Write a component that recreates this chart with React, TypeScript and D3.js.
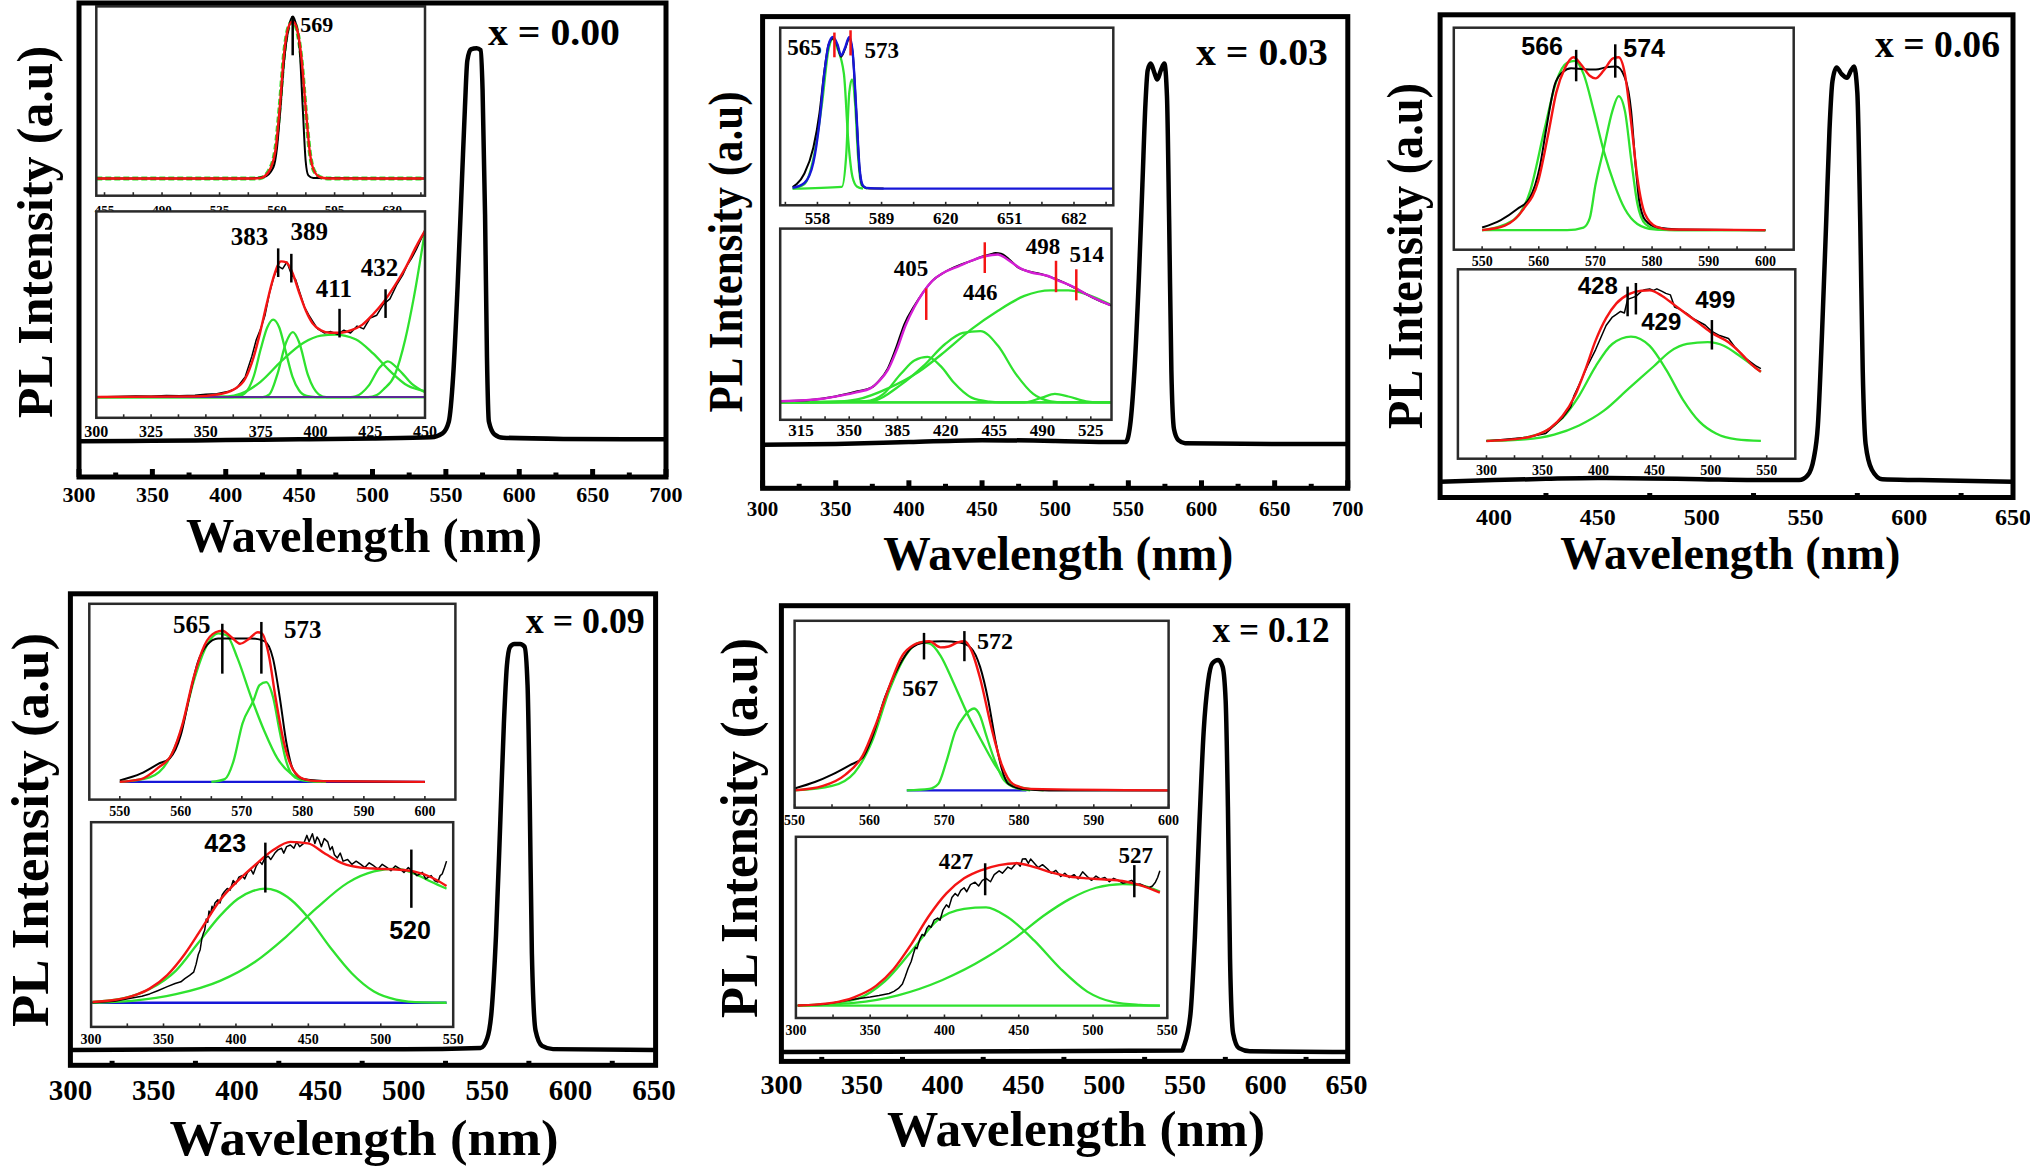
import React from "react";
import * as d3 from "d3";

type Pt = [number, number];

// ---------- x = 0.00 ----------
const p1Ticks = [300, 350, 400, 450, 500, 550, 600, 650, 700];
const p1Main: Pt[] = [[300,0],[350,0.001],[400,0.003],[450,0.005],[500,0.007],[540,0.01],[547.7,0.02],[552,0.05],[555,0.168],[558,0.395],[561,0.668],[563,0.85],[564.6,0.968],[567,0.997],[571,1.0],[573.7,0.995],[575,0.895],[576.7,0.577],[578,0.214],[579.3,0.05],[583,0.018],[589,0.009],[630,0.006],[700,0.005]];
const p1UpTicks = [455, 490, 525, 560, 595, 630];
const p1UpData: Pt[] = [[450,0],[540,0],[552,0.01],[557.7,0.07],[560,0.2],[561.6,0.39],[564.3,0.75],[567,0.955],[569.5,1.03],[571,1.0],[573.5,0.86],[575.6,0.45],[577.4,0.11],[579,0.02],[582,0.003],[650,0]];
const p1UpFit: Pt[] = [[450,0],[545,0],[549.7,0.003],[555,0.045],[559,0.18],[561.6,0.45],[564.3,0.8],[567,0.966],[569.5,1.0],[572,0.955],[574.8,0.77],[577.4,0.45],[580,0.16],[582.7,0.045],[586.7,0.007],[592,0],[650,0]];
const p1UpComp: Pt[] = [[450,0],[545,0],[550,0.004],[555,0.05],[559,0.19],[561.6,0.46],[564.3,0.8],[567,0.965],[569.5,1.0],[572,0.95],[574.8,0.76],[577.4,0.44],[580,0.16],[582.7,0.045],[587,0.006],[592,0],[650,0]];
const p1UpPeaks = [{ nm: 569.5, top: 1.034, bot: 0.784 }];
const p1LoTicks = [300, 325, 350, 375, 400, 425, 450];
const p1LoData: Pt[] = [[300,0],[310,0.004],[318,0.008],[325,0.006],[332,0.012],[338,0.01],[345,0.014],[350,0.02],[355,0.025],[360,0.04],[364,0.065],[368,0.15],[371,0.3],[373,0.42],[375,0.5],[377,0.6],[379,0.76],[381,0.88],[383,0.96],[385,0.94],[387,0.99],[389,0.9],[391,0.86],[393,0.76],[395,0.66],[397,0.6],[399,0.55],[401,0.5],[404,0.47],[407,0.48],[410,0.46],[413,0.49],[416,0.47],[419,0.52],[422,0.5],[425,0.58],[428,0.6],[431,0.68],[434,0.72],[437,0.82],[440,0.9],[442,0.97],[444,1.02],[446,1.08],[448,1.15],[450,1.22]];
const p1LoFit: Pt[] = [[300,0],[345,0.005],[355,0.018],[363,0.058],[368,0.136],[371.8,0.293],[374.8,0.476],[377.8,0.686],[380.7,0.869],[384.3,0.995],[386.7,0.987],[389.6,0.908],[392.6,0.764],[395.6,0.634],[398.6,0.542],[402.5,0.49],[406.5,0.471],[411.4,0.471],[416.4,0.49],[421.3,0.529],[426.3,0.607],[431.2,0.699],[436.2,0.817],[441.1,0.948],[446,1.105],[450,1.22]];
const p1LoG1: Pt[] = [[300,0],[362,0],[366,0.01],[369,0.05],[372,0.16],[375,0.35],[378,0.51],[380.7,0.568],[383.5,0.51],[386.5,0.33],[389.5,0.15],[392.5,0.05],[396,0.008],[400,0],[450,0]];
const p1LoG2: Pt[] = [[300,0],[376,0],[379,0.02],[382.7,0.17],[386.6,0.4],[389.7,0.476],[392.6,0.4],[396.6,0.16],[401.5,0.02],[405,0],[450,0]];
const p1LoG3: Pt[] = [[300,0],[360,0.005],[366,0.025],[374.8,0.11],[384.7,0.267],[394.6,0.398],[402.5,0.45],[409,0.458],[418.3,0.424],[426.3,0.32],[434.2,0.188],[442,0.084],[450,0.044]];
const p1LoG4: Pt[] = [[300,0],[416,0],[418.3,0.005],[424.3,0.084],[429.2,0.215],[433,0.262],[438.1,0.2],[444,0.097],[450,0.035]];
const p1LoG5: Pt[] = [[300,0],[424,0],[428,0.015],[431.2,0.058],[436.2,0.162],[441,0.424],[445,0.738],[450,1.22]];
const p1LoBase: Pt[] = [[300,0],[450,0]];
const p1LoPeaks = [
  { nm: 383, top: 1.09, bot: 0.88 },
  { nm: 389, top: 1.05, bot: 0.84 },
  { nm: 411, top: 0.647, bot: 0.437 },
  { nm: 432, top: 0.79, bot: 0.58 },
];

// ---------- x = 0.03 ----------
const p2Main: Pt[] = [[300,-0.002],[350,0],[400,0.005],[450,0.01],[500,0.008],[540,0.005],[548.2,0.005],[551.2,0.049],[554.2,0.195],[557.2,0.439],[559.6,0.683],[561.7,0.898],[563.2,0.985],[565.3,1.003],[567.7,0.98],[569.8,0.961],[572.2,0.985],[574.6,1.003],[576.4,0.917],[577.9,0.585],[579.4,0.195],[581.2,0.039],[584.2,0.01],[588.8,0.002],[650,0],[700,0]];
const p2UpTicks = [558, 589, 620, 651, 682];
const p2UpData: Pt[] = [[546,0.01],[548,0.03],[551.7,0.1],[556,0.27],[559,0.5],[561.3,0.77],[563.4,0.95],[565.5,0.99],[567.7,0.94],[569.4,0.87],[571.3,0.92],[573.4,0.99],[575,0.9],[576.8,0.5],[578.3,0.14],[579.8,0.02],[582,0.003],[590,0]];
const p2UpFit: Pt[] = [[546,0.005],[551.7,0.037],[556,0.17],[559,0.44],[561.3,0.756],[563.4,0.95],[565.5,1.0],[567.7,0.95],[569.4,0.878],[571.3,0.927],[573.4,1.0],[575,0.902],[576.8,0.512],[578.3,0.146],[579.8,0.024],[581.5,0.005],[590,0],[701,0]];
const p2UpG1: Pt[] = [[546,0],[551.7,0.03],[556,0.195],[560.2,0.56],[563.4,0.92],[565.5,0.988],[567.5,0.93],[570.8,0.756],[572.9,0.317],[575,0.073],[577.2,0.012],[580,0]];
const p2UpG2: Pt[] = [[546,0],[569.8,0.012],[571.9,0.22],[573.4,0.634],[574.7,0.72],[576.2,0.561],[577.6,0.22],[579.3,0.024],[582,0]];
const p2UpPeaks = [
  { nm: 566.2, top: 1.029, bot: 0.866 },
  { nm: 574, top: 1.044, bot: 0.878 },
];
const p2LoTicks = [315, 350, 385, 420, 455, 490, 525];
const p2LoData: Pt[] = [[300,0.008],[320,0.015],[340,0.04],[356,0.075],[366,0.1],[372,0.15],[378,0.23],[384,0.37],[390,0.53],[397,0.65],[404,0.75],[410,0.82],[419,0.88],[429,0.925],[438,0.955],[446,0.985],[452,1.0],[456,1.01],[460,1.005],[465,0.975],[472,0.915],[480,0.885],[488,0.87],[495,0.85],[502,0.825],[510,0.79],[518,0.75],[526,0.71],[533,0.68],[540,0.655]];
const p2LoFit: Pt[] = [[300,0.008],[317.5,0.015],[330.3,0.025],[343,0.045],[355.8,0.07],[365.3,0.095],[371.7,0.145],[378,0.22],[384.5,0.357],[390.8,0.52],[397.2,0.645],[403.6,0.745],[410,0.82],[419.5,0.883],[429.1,0.92],[438.6,0.958],[448.2,0.988],[457.8,1.0],[464.1,0.97],[473.7,0.908],[483.3,0.875],[492.8,0.858],[502.4,0.82],[511.9,0.783],[521.5,0.733],[531.1,0.69],[539,0.658]];
const p2LoG1: Pt[] = [[300,0],[362,0.008],[374.9,0.058],[387.6,0.195],[397.2,0.283],[406.8,0.3075],[416.3,0.245],[425.9,0.1325],[438.6,0.0325],[451.4,0.005],[460,0],[540,0]];
const p2LoG2: Pt[] = [[300,0],[365.3,0.008],[387.6,0.12],[403.6,0.245],[419.5,0.395],[432.3,0.47],[445,0.4825],[457.8,0.3825],[470.5,0.195],[483.3,0.0575],[496,0.0075],[505,0],[540,0]];
const p2LoG3: Pt[] = [[300,0],[340,0.005],[355.8,0.02],[378.1,0.095],[400.4,0.2075],[419.5,0.345],[438.6,0.495],[457.8,0.62],[476.9,0.72],[496,0.7575],[508.7,0.7575],[521.5,0.7325],[540,0.6575]];
const p2LoG4: Pt[] = [[300,0],[476.9,0],[489.6,0.0325],[499,0.0575],[508.7,0.04],[521.5,0.0075],[530,0],[540,0]];
const p2LoBase: Pt[] = [[300,0],[540,0]];
const p2LoPeaks = [
  { nm: 405.8, top: 0.77, bot: 0.5575 },
  { nm: 448.2, top: 1.0825, bot: 0.875 },
  { nm: 499.8, top: 0.9575, bot: 0.745 },
  { nm: 514.5, top: 0.9, bot: 0.69 },
];

// ---------- x = 0.06 ----------
const p3Ticks = [400, 450, 500, 550, 600, 650];
const p3Main: Pt[] = [[374,-0.002],[400,0.002],[425,0.005],[450,0.007],[475,0.006],[500,0.004],[525,0.002],[547,0.002],[551,0.013],[554,0.054],[556,0.134],[558,0.357],[560,0.625],[561.6,0.848],[563,0.964],[565,0.998],[567.4,0.982],[570,0.973],[572,0.991],[573.4,1.0],[575,0.9375],[576.4,0.625],[577.6,0.268],[579,0.089],[582,0.027],[587,0.004],[605,0.002],[650,-0.002]];
const p3UpTicks = [550, 560, 570, 580, 590, 600];
const p3UpData: Pt[] = [[550,0.015],[553.3,0.058],[556.2,0.122],[558.4,0.186],[560.2,0.368],[561.3,0.582],[562.8,0.839],[564.2,0.914],[565.7,0.936],[567.9,0.931],[570.1,0.929],[571.9,0.942],[573.7,0.946],[575.2,0.882],[576.3,0.69],[577,0.411],[577.7,0.176],[578.8,0.058],[581,0.015],[584.7,0.004],[600,0]];
const p3UpFit: Pt[] = [[550,0],[554,0.026],[557.3,0.122],[559.9,0.283],[561.7,0.561],[563.1,0.797],[564.6,0.936],[566.1,1.0],[567.5,0.957],[569,0.893],[570,0.878],[571.5,0.925],[573.1,0.994],[574.1,1.0],[575.2,0.904],[576.3,0.625],[577.4,0.304],[578.8,0.09],[580.7,0.021],[583.2,0.004],[600,0]];
const p3UpG1: Pt[] = [[550,0],[555.5,0.058],[558.4,0.218],[561,0.582],[563.1,0.861],[565,0.968],[566.4,0.979],[567.9,0.904],[569.7,0.69],[571.5,0.454],[573.4,0.261],[575.2,0.122],[577.4,0.036],[580.3,0.004],[583,0],[600,0]];
const p3UpG2: Pt[] = [[550,0],[565,0],[567.9,0.015],[569,0.069],[570,0.261],[571.5,0.475],[573,0.69],[574.1,0.775],[575.2,0.69],[576.3,0.411],[577.4,0.154],[578.8,0.036],[581,0.004],[584,0],[600,0]];
const p3UpPeaks = [
  { nm: 566.6, top: 1.043, bot: 0.861 },
  { nm: 573.5, top: 1.075, bot: 0.882 },
];
const p3LoTicks = [300, 350, 400, 450, 500, 550];
const p3LoData: Pt[] = [[300,0],[334.4,0.022],[352.9,0.05],[367.8,0.152],[375.2,0.226],[378,0.3],[382.6,0.373],[390,0.496],[397.4,0.607],[406.7,0.767],[412,0.82],[415.9,0.84],[419.6,0.86],[423,0.85],[425.9,0.94],[429.6,0.95],[433.3,0.96],[438.1,0.993],[441,1.005],[445.6,1.01],[449,1.0],[452,1.01],[456.7,0.993],[460,0.98],[464.1,0.97],[467.8,0.89],[471,0.88],[478.9,0.845],[485,0.81],[490,0.79],[495,0.77],[501.1,0.727],[508,0.7],[515.9,0.68],[522,0.62],[527,0.58],[531,0.55],[536.3,0.52],[540,0.5],[544.8,0.48]];
const p3LoFit: Pt[] = [[300,0],[323.3,0.01],[341.9,0.034],[356.7,0.084],[367.8,0.165],[378.9,0.3],[388.1,0.472],[397.4,0.668],[406.7,0.816],[415.9,0.914],[427,0.975],[438.1,0.998],[445.6,1.0],[456.7,0.963],[467.8,0.902],[478.9,0.84],[490,0.779],[501.1,0.717],[515.9,0.656],[527,0.582],[536.3,0.509],[544.8,0.459]];
const p3LoG1: Pt[] = [[300,0],[315.9,0.005],[334.4,0.022],[353,0.066],[367.8,0.152],[382.6,0.3],[397.4,0.496],[412.2,0.644],[428.9,0.693],[445.6,0.631],[460.4,0.472],[475.2,0.275],[490,0.128],[504.8,0.049],[523.3,0.01],[544.8,0]];
const p3LoG2: Pt[] = [[300,0],[334.4,0.01],[360.4,0.042],[382.6,0.103],[404.8,0.201],[427,0.349],[449.3,0.496],[464.1,0.595],[478.9,0.644],[497.4,0.656],[512.2,0.631],[527,0.558],[544.8,0.459]];
const p3LoPeaks = [
  { nm: 425.9, top: 1.025, bot: 0.828 },
  { nm: 433.3, top: 1.049, bot: 0.84 },
  { nm: 501.1, top: 0.803, bot: 0.607 },
];

// ---------- x = 0.09 ----------
const p4Ticks = [300, 350, 400, 450, 500, 550, 600, 650];
const p4Main: Pt[] = [[300,-0.002],[400,0],[500,0],[546,0.003],[550,0.027],[552.6,0.093],[555.3,0.283],[557.9,0.568],[560,0.805],[561.8,0.948],[563.7,0.995],[566.3,1.002],[569.7,1.002],[572.4,0.995],[574.2,0.9],[575.5,0.615],[576.8,0.236],[579,0.046],[582.9,0.008],[589.5,0],[650,-0.002]];
const p4UpTicks = [550, 560, 570, 580, 590, 600];
const p4UpData: Pt[] = [[550,0.01],[553.5,0.056],[556.3,0.119],[558.2,0.157],[560,0.31],[561.4,0.563],[562.8,0.792],[564.3,0.906],[566.1,0.949],[568.6,0.949],[571.5,0.949],[573.7,0.931],[575.1,0.817],[576.2,0.563],[577.3,0.259],[578.4,0.081],[580.2,0.018],[584.5,0.005],[600,0]];
const p4UpFit: Pt[] = [[550,0],[553.5,0.018],[556.3,0.094],[558.5,0.183],[560.3,0.386],[562.1,0.69],[563.9,0.906],[565.7,0.99],[566.8,1.0],[568.3,0.957],[569.7,0.914],[571.1,0.944],[572.6,0.99],[573.3,0.982],[574.4,0.843],[575.5,0.563],[576.9,0.259],[578.4,0.081],[580.2,0.018],[582.3,0.005],[600,0]];
const p4UpG1: Pt[] = [[550,0],[554.9,0.03],[557.8,0.132],[560,0.335],[562.1,0.665],[564.3,0.906],[566.1,0.982],[567.5,0.97],[569.3,0.817],[571.5,0.563],[573.7,0.335],[575.8,0.157],[578,0.056],[580.9,0.01],[583.8,0]];
const p4UpG2: Pt[] = [[565,0],[567.2,0.018],[568.6,0.132],[570.1,0.386],[571.9,0.538],[572.9,0.64],[574,0.66],[575.1,0.563],[576.2,0.335],[577.3,0.132],[578.7,0.03],[580.9,0.005],[583,0]];
const p4UpBase: Pt[] = [[550,0],[600,0]];
const p4UpPeaks = [
  { nm: 566.8, top: 1.046, bot: 0.716 },
  { nm: 573.2, top: 1.058, bot: 0.716 },
];
const p4LoTicks = [300, 350, 400, 450, 500, 550];
const p4LoData: Pt[] = [[300.9,0],[316,0.01],[328.2,0.03],[335,0.04],[340.4,0.055],[346,0.075],[352.6,0.1],[358,0.12],[362,0.13],[364.7,0.15],[368,0.17],[370.8,0.19],[372.5,0.24],[374,0.3],[375.3,0.33],[376.5,0.4],[377.5,0.43],[378.4,0.45],[379.5,0.52],[380.5,0.5],[381.4,0.57],[382.5,0.55],[383.5,0.6],[384.4,0.58],[385.5,0.62],[387.5,0.64],[389,0.62],[390.5,0.67],[392,0.69],[394,0.71],[396,0.7],[398.1,0.76],[400,0.74],[402,0.78],[404.2,0.79],[406,0.77],[408,0.81],[410.2,0.83],[412,0.8],[414,0.85],[416.3,0.88],[418,0.86],[420,0.9],[422.4,0.91],[424,0.89],[426.9,0.93],[429,0.95],[431.5,0.96],[433,0.93],[435,0.97],[437.6,0.98],[440,0.96],[442,1.0],[444,0.97],[446.8,0.99],[449,1.04],[450.5,1.0],[452.8,1.05],[454.5,0.99],[456,1.03],[457.4,1.01],[459,0.97],[461,1.02],[463.4,1.0],[465,0.95],[466.5,0.97],[468,0.92],[470,0.9],[472,0.93],[474,0.88],[477.1,0.89],[480,0.86],[483,0.88],[486.2,0.86],[489,0.84],[492,0.87],[495.3,0.85],[498,0.83],[501,0.86],[504.4,0.84],[507,0.82],[510,0.85],[513.5,0.83],[516,0.81],[519,0.84],[522.7,0.81],[525,0.79],[528.7,0.81],[531,0.77],[534.8,0.79],[537,0.76],[539.4,0.75],[541,0.79],[542.4,0.8],[544,0.84],[545.4,0.88]];
const p4LoFit: Pt[] = [[300.9,0.005],[316,0.017],[328.2,0.041],[340.4,0.088],[352.6,0.172],[364.7,0.303],[376.9,0.47],[389,0.637],[401.2,0.757],[413.3,0.857],[425.5,0.947],[437.6,1.0],[449.8,0.99],[461.9,0.924],[474.1,0.864],[486.2,0.84],[498.4,0.833],[510.5,0.828],[522.7,0.816],[534.8,0.78],[545.4,0.726]];
const p4LoG1: Pt[] = [[300.9,0.005],[322.2,0.027],[340.4,0.085],[358.6,0.2],[373.8,0.37],[389,0.54],[401.2,0.645],[411.8,0.695],[420,0.709],[428,0.695],[438,0.64],[449.8,0.53],[465,0.345],[480.1,0.182],[495.3,0.07],[510.5,0.02],[528.7,0.002],[545.4,0]];
const p4LoG2: Pt[] = [[300.9,0],[328.2,0.012],[358.6,0.053],[389,0.136],[413.3,0.255],[434.6,0.41],[455.8,0.589],[477.1,0.745],[495.3,0.816],[510.5,0.833],[522.7,0.804],[534.8,0.752],[545.4,0.709]];
const p4LoBase: Pt[] = [[300.9,0],[545.4,0]];
const p4LoPeaks = [
  { nm: 420.3, top: 0.995, bot: 0.685 },
  { nm: 521.1, top: 0.952, bot: 0.59 },
];

// ---------- x = 0.12 ----------
const p5Main: Pt[] = [[300,-0.002],[450,0],[548.2,0.002],[549.3,0.013],[553.4,0.095],[556.1,0.288],[558.9,0.577],[561.6,0.819],[564.3,0.944],[567,0.992],[570.6,1.0],[573.3,0.983],[575.2,0.896],[576.6,0.625],[577.9,0.239],[579.8,0.046],[583.4,0.008],[590.2,0],[650,-0.002]];
const p5UpData: Pt[] = [[550,0.013],[552.7,0.056],[555,0.106],[557.4,0.17],[559.1,0.22],[560.3,0.347],[562.1,0.625],[563.9,0.828],[565.6,0.954],[567.4,0.992],[569.8,1.0],[572.1,0.992],[573.6,0.954],[574.8,0.828],[575.9,0.6],[576.8,0.347],[577.7,0.144],[578.6,0.043],[580.4,0.01],[584,0],[600,0]];
const p5UpFit: Pt[] = [[550,0],[553.8,0.03],[556.8,0.106],[559.1,0.233],[560.9,0.448],[562.7,0.701],[564.4,0.904],[565.9,0.975],[566.8,0.992],[568,1.0],[569.5,0.959],[570.6,0.965],[571.8,0.992],[572.7,1.0],[573.6,0.942],[574.8,0.752],[576.3,0.423],[577.7,0.17],[579.2,0.043],[581.5,0.01],[600,0]];
const p5UpG1: Pt[] = [[550,0],[555,0.03],[558,0.119],[560.3,0.322],[562.7,0.676],[565,0.916],[566.8,0.992],[568,0.985],[569.5,0.904],[571.2,0.727],[573,0.524],[575.1,0.322],[576.8,0.17],[578.6,0.056],[580.4,0.018],[583.3,0]];
const p5UpG2: Pt[] = [[565,0],[568,0.01],[569.2,0.043],[570.3,0.195],[571.5,0.397],[572.7,0.499],[574,0.549],[574.8,0.499],[575.6,0.372],[576.8,0.195],[578,0.068],[579.8,0.013],[581.5,0]];
const p5UpBase: Pt[] = [[565,0],[581,0]];
const p5UpPeaks = [
  { nm: 567.3, top: 1.056, bot: 0.878 },
  { nm: 572.7, top: 1.068, bot: 0.866 },
];
const p5LoData: Pt[] = [[301.2,0],[320,0.01],[339.1,0.045],[350,0.06],[356,0.07],[362.8,0.085],[366,0.1],[369,0.12],[371.7,0.151],[373.5,0.2],[375.5,0.26],[377.6,0.31],[379,0.36],[380.5,0.41],[381.5,0.4],[383.5,0.469],[385,0.5],[386.5,0.49],[388,0.54],[389.5,0.562],[391,0.55],[393,0.6],[395.4,0.615],[397,0.6],[399,0.67],[401.3,0.708],[403,0.69],[405,0.76],[407.2,0.788],[409,0.77],[411,0.81],[413.2,0.828],[415,0.8],[417.5,0.85],[420.6,0.867],[423,0.84],[425.5,0.88],[428,0.894],[431,0.87],[433.5,0.92],[436.8,0.947],[439,0.93],[442.7,0.973],[445,0.96],[448.7,1.005],[451,0.98],[452.5,1.03],[454.6,1.032],[456.5,1.0],[458,1.03],[460.5,1.0],[463,0.97],[466,0.99],[469.4,0.96],[472,0.93],[475,0.95],[478.3,0.907],[481,0.93],[484,0.9],[487.2,0.92],[490,0.89],[493,0.94],[496.1,0.907],[499,0.88],[502,0.91],[505,0.889],[508,0.9],[511,0.87],[513.9,0.894],[517,0.88],[520,0.86],[522.7,0.867],[526,0.88],[529,0.85],[531.6,0.854],[534.5,0.84],[537.6,0.828],[540,0.84],[542,0.867],[543.5,0.9],[545,0.947]];
const p5LoFit: Pt[] = [[301.2,0],[324.3,0.019],[339.1,0.058],[353.9,0.138],[365.8,0.257],[377.6,0.43],[389.5,0.629],[401.3,0.788],[413.2,0.894],[425,0.952],[436.8,0.987],[448.7,1.0],[460.5,0.973],[472.4,0.934],[484.2,0.907],[496.1,0.894],[507.9,0.886],[519.8,0.875],[531.6,0.846],[545,0.793]];
const p5LoG1: Pt[] = [[301.2,0],[324.3,0.015],[342.1,0.05],[359.8,0.17],[377.6,0.38],[395.4,0.6],[413.2,0.68],[428,0.69],[442.7,0.62],[460.5,0.456],[478.3,0.257],[496.1,0.098],[513.9,0.024],[531.6,0.005],[545,0]];
const p5LoG2: Pt[] = [[301.2,0],[339.1,0.019],[368.7,0.072],[398.3,0.178],[428,0.337],[448.7,0.483],[466.5,0.629],[484.2,0.748],[502,0.828],[519.8,0.854],[531.6,0.846],[545,0.801]];
const p5LoBase: Pt[] = [[301.2,0],[545,0]];
const p5LoPeaks = [
  { nm: 427.4, top: 1.0, bot: 0.775 },
  { nm: 527.8, top: 0.987, bot: 0.761 },
];

const SERIF = "'Liberation Serif', 'Times New Roman', serif";
const SANS = "'Liberation Sans', Arial, sans-serif";
const GREEN = "#2fe22f";
const RED = "#f41414";
const BLUE = "#1717d8";
const MAGENTA = "#d41ed4";
const PURPLE = "#5a2a96";

const fiftyMinor = [325, 375, 425, 475, 525, 575, 625];
const fiftyMinor2 = [325, 375, 425, 475, 525, 575, 625, 675];

const g = (d, w = 2.3) => ({ d, c: GREEN, w });
const blk = (d, raw = false) => ({ d, c: "#000", w: raw ? 1.5 : 2, raw });
const fit = (d, c = RED) => ({ d, c, w: 2.4 });

const panels = [
  {
    frame: { x0: 79, x1: 666, y0: 3, y1: 477 }, xd: [300, 700], yd: [-0.091, 1.115],
    main: p1Main, ticks: p1Ticks, major: p1Ticks, minor: fiftyMinor2, tickY: 501.5, tickSize: 22,
    xLabel: { cx: 364, y: 551.5, len: 356, size: 48 },
    yLabel: { x: 52, cy: 232, len: 372, size: 50 },
    title: { t: "x = 0.00", x: 488, y: 44.6, len: 132, size: 38 },
    insets: [
      {
        x0: 96.3, x1: 425, y0: 6.4, y1: 195.7, xd: [450, 650], yd: [-0.109, 1.095],
        ticks: p1UpTicks, labelY: 214, labelSize: 13,
        series: [{ d: p1UpComp, c: GREEN, w: 4, dash: "6 3" }, blk(p1UpData), fit(p1UpFit)],
        peaks: p1UpPeaks, peakColor: "#000",
        labels: [{ t: "569", nm: 584.1, v: 0.932, size: 22 }],
      },
      {
        x0: 96.3, x1: 425, y0: 211.4, y1: 417.8, xd: [300, 450], yd: [-0.152, 1.361],
        ticks: p1LoTicks, labelY: 437, labelSize: 16,
        series: [g(p1LoG1), g(p1LoG2), g(p1LoG3), g(p1LoG4), g(p1LoG5), { d: p1LoBase, c: PURPLE, w: 2 }, blk(p1LoData, true), fit(p1LoFit)],
        peaks: p1LoPeaks, peakColor: "#000",
        labels: [
          { t: "383", nm: 369.9, v: 1.118, size: 25 },
          { t: "389", nm: 397.2, v: 1.152, size: 25 },
          { t: "411", nm: 408.4, v: 0.733, size: 25 },
          { t: "432", nm: 429.2, v: 0.887, size: 25 },
        ],
      },
    ],
  },
  {
    frame: { x0: 762.6, x1: 1347.8, y0: 16.6, y1: 488.3 }, xd: [300, 700], yd: [-0.117, 1.127],
    main: p2Main, ticks: p1Ticks, major: p1Ticks, minor: fiftyMinor2, tickY: 516, tickSize: 21,
    xLabel: { cx: 1058.3, y: 569.5, len: 350, size: 48 },
    yLabel: { x: 742, cy: 252, len: 321, size: 48 },
    title: { t: "x = 0.03", x: 1196, y: 64.7, len: 132, size: 38 },
    insets: [
      {
        x0: 780.2, x1: 1113.3, y0: 27.7, y1: 205.3, xd: [540, 701], yd: [-0.11, 1.061],
        ticks: p2UpTicks, labelY: 223.5, labelSize: 17,
        series: [g(p2UpG1), g(p2UpG2), blk(p2UpData), fit(p2UpFit, BLUE)],
        peaks: p2UpPeaks, peakColor: RED,
        labels: [
          { t: "565", nm: 551.7, v: 0.878, size: 23 },
          { t: "573", nm: 589.1, v: 0.859, size: 23 },
        ],
      },
      {
        x0: 780.2, x1: 1111.5, y0: 228.6, y1: 419.8, xd: [300, 540], yd: [-0.1175, 1.175],
        ticks: p2LoTicks, labelY: 435.5, labelSize: 17,
        series: [g(p2LoBase), g(p2LoG1), g(p2LoG2), g(p2LoG3), g(p2LoG4), blk(p2LoData), fit(p2LoFit, MAGENTA)],
        peaks: p2LoPeaks, peakColor: RED,
        labels: [
          { t: "405", nm: 394.7, v: 0.8575, size: 23 },
          { t: "446", nm: 445, v: 0.69, size: 23 },
          { t: "498", nm: 490.3, v: 1.0, size: 23 },
          { t: "514", nm: 522.1, v: 0.95, size: 23 },
        ],
      },
    ],
  },
  {
    frame: { x0: 1440.1, x1: 2013, y0: 14.8, y1: 497.5 }, xd: [374, 650], yd: [-0.04, 1.125],
    main: p3Main, ticks: p3Ticks, major: [], minor: [425, 475, 525, 575, 625], tickY: 524.5, tickSize: 24,
    xLabel: { cx: 1730.3, y: 568.5, len: 340, size: 46 },
    yLabel: { x: 1421.5, cy: 256, len: 346, size: 50 },
    title: { t: "x = 0.06", x: 1875, y: 57, len: 125, size: 37 },
    insets: [
      {
        x0: 1453.8, x1: 1793.7, y0: 27.7, y1: 249.7, xd: [545, 605], yd: [-0.113, 1.171],
        ticks: p3UpTicks, labelY: 265.5, labelSize: 14,
        series: [g(p3UpG1), g(p3UpG2), blk(p3UpData), fit(p3UpFit)],
        peaks: p3UpPeaks, peakColor: "#000",
        labels: [
          { t: "566", nm: 560.6, v: 1.015, size: 25, sans: true },
          { t: "574", nm: 578.6, v: 1.0, size: 25, sans: true },
        ],
      },
      {
        x0: 1457.9, x1: 1795.3, y0: 269.3, y1: 458.7, xd: [274.5, 575.5], yd: [-0.118, 1.14],
        ticks: p3LoTicks, labelY: 474.5, labelSize: 14,
        series: [g(p3LoG1), g(p3LoG2), blk(p3LoData, true), fit(p3LoFit)],
        peaks: p3LoPeaks, peakColor: "#000",
        labels: [
          { t: "428", nm: 399.3, v: 0.975, size: 24, sans: true },
          { t: "429", nm: 455.9, v: 0.737, size: 24, sans: true },
          { t: "499", nm: 504.1, v: 0.885, size: 24, sans: true },
        ],
      },
    ],
  },
  {
    frame: { x0: 70.4, x1: 655.6, y0: 593.8, y1: 1065.3 }, xd: [300, 651], yd: [-0.04, 1.126],
    main: p4Main, ticks: p4Ticks, major: [], minor: fiftyMinor, tickY: 1099.5, tickSize: 29,
    xLabel: { cx: 364, y: 1155, len: 389, size: 51 },
    yLabel: { x: 47.5, cy: 830, len: 394, size: 52 },
    title: { t: "x = 0.09", x: 525.8, y: 633.3, len: 119, size: 36 },
    insets: [
      {
        x0: 89.3, x1: 455.4, y0: 603.8, y1: 799.6, xd: [545, 605], yd: [-0.117, 1.178],
        ticks: p4UpTicks, labelY: 815.5, labelSize: 14,
        series: [{ d: p4UpBase, c: BLUE, w: 2.3 }, g(p4UpG1), g(p4UpG2), blk(p4UpData), fit(p4UpFit)],
        peaks: p4UpPeaks, peakColor: "#000",
        labels: [
          { t: "565", nm: 561.8, v: 0.987, size: 25 },
          { t: "573", nm: 580, v: 0.949, size: 25 },
        ],
      },
      {
        x0: 91.1, x1: 453.2, y0: 822.2, y1: 1026.9, xd: [300, 550], yd: [-0.15, 1.122],
        ticks: p4LoTicks, labelY: 1044, labelSize: 14,
        series: [{ d: p4LoBase, c: BLUE, w: 2.3 }, g(p4LoG1), g(p4LoG2), blk(p4LoData, true), fit(p4LoFit)],
        peaks: p4LoPeaks, peakColor: "#000",
        labels: [
          { t: "423", nm: 392.6, v: 0.936, size: 25, sans: true },
          { t: "520", nm: 520.2, v: 0.399, size: 25, sans: true },
        ],
      },
    ],
  },
  {
    frame: { x0: 781.4, x1: 1347.7, y0: 605.7, y1: 1061.4 }, xd: [300, 650.8], yd: [-0.026, 1.139],
    main: p5Main, ticks: p4Ticks, major: [], minor: fiftyMinor, tickY: 1093.5, tickSize: 28,
    xLabel: { cx: 1076, y: 1146, len: 378, size: 50 },
    yLabel: { x: 757, cy: 828, len: 380, size: 53 },
    title: { t: "x = 0.12", x: 1212.6, y: 642.3, len: 117, size: 35 },
    insets: [
      {
        x0: 794.6, x1: 1168.6, y0: 620.8, y1: 807.7, xd: [550, 600], yd: [-0.116, 1.137],
        ticks: p4UpTicks, labelY: 824.5, labelSize: 14,
        series: [{ d: p5UpBase, c: BLUE, w: 2.3 }, g(p5UpG1), g(p5UpG2), blk(p5UpData), fit(p5UpFit)],
        peaks: p5UpPeaks, peakColor: "#000",
        labels: [
          { t: "567", nm: 566.8, v: 0.63, size: 24 },
          { t: "572", nm: 576.8, v: 0.949, size: 24 },
        ],
      },
      {
        x0: 795.9, x1: 1167.3, y0: 836.8, y1: 1018, xd: [300, 550], yd: [-0.0875, 1.186],
        ticks: p4LoTicks, labelY: 1035, labelSize: 14,
        series: [g(p5LoBase), g(p5LoG1), g(p5LoG2), blk(p5LoData, true), fit(p5LoFit)],
        peaks: p5LoPeaks, peakColor: "#000",
        labels: [
          { t: "427", nm: 407.8, v: 0.96, size: 23 },
          { t: "527", nm: 528.7, v: 1.0, size: 23 },
        ],
      },
    ],
  },
];

function Inset({ s, id }) {
  const x = d3.scaleLinear().domain(s.xd).range([s.x0, s.x1]);
  const y = d3.scaleLinear().domain(s.yd).range([s.y1, s.y0]);
  const mk = (raw) =>
    d3.line<Pt>().x((d) => x(d[0])).y((d) => y(d[1])).curve(raw ? d3.curveLinear : d3.curveMonotoneX);
  const step = s.ticks[1] - s.ticks[0];
  const minor = d3
    .range(s.ticks[0] - step / 2, s.xd[1], step)
    .filter((t) => t > s.xd[0] + 0.5 && t < s.xd[1] - 0.5);
  return (
    <g>
      <defs>
        <clipPath id={id}>
          <rect x={s.x0} y={s.y0} width={s.x1 - s.x0} height={s.y1 - s.y0} />
        </clipPath>
      </defs>
      <rect x={s.x0} y={s.y0} width={s.x1 - s.x0} height={s.y1 - s.y0} fill="#fff" />
      <g clipPath={`url(#${id})`}>
        {s.series.map((c, i) => (
          <path
            key={i}
            d={mk(c.raw)(c.d)}
            fill="none"
            stroke={c.c}
            strokeWidth={c.w}
            strokeDasharray={c.dash}
            strokeLinejoin="round"
          />
        ))}
      </g>
      {s.peaks.map((p, i) => (
        <line key={i} x1={x(p.nm)} x2={x(p.nm)} y1={y(p.top)} y2={y(p.bot)} stroke={s.peakColor} strokeWidth={2.5} />
      ))}
      {s.labels.map((l, i) => (
        <text
          key={i}
          x={x(l.nm)}
          y={y(l.v)}
          textAnchor="middle"
          fontFamily={l.sans ? SANS : SERIF}
          fontWeight="bold"
          fontSize={l.size}
        >
          {l.t}
        </text>
      ))}
      <rect
        x={s.x0}
        y={s.y0}
        width={s.x1 - s.x0}
        height={s.y1 - s.y0}
        fill="none"
        stroke="#2a2a2a"
        strokeWidth={2.5}
      />
      {[...s.ticks, ...minor].map((t, i) => (
        <line key={i} x1={x(t)} x2={x(t)} y1={s.y1} y2={s.y1 - 3.5} stroke="#2a2a2a" strokeWidth={1.6} />
      ))}
      {s.ticks.map((t) => (
        <text
          key={t}
          x={x(t)}
          y={s.labelY}
          textAnchor="middle"
          fontFamily={SERIF}
          fontWeight="bold"
          fontSize={s.labelSize}
        >
          {t}
        </text>
      ))}
    </g>
  );
}

function Panel({ p, idx }) {
  const f = p.frame;
  const x = d3.scaleLinear().domain(p.xd).range([f.x0, f.x1]);
  const y = d3.scaleLinear().domain(p.yd).range([f.y1, f.y0]);
  const line = d3
    .line<Pt>()
    .x((d) => x(d[0]))
    .y((d) => y(d[1]))
    .curve(d3.curveMonotoneX);
  return (
    <g>
      <path d={line(p.main)} fill="none" stroke="#000" strokeWidth={4.5} strokeLinejoin="round" />
      {p.major.map((t) => (
        <line key={"M" + t} x1={x(t)} x2={x(t)} y1={f.y1} y2={f.y1 - 8} stroke="#000" strokeWidth={5} />
      ))}
      {p.minor.map((t) => (
        <line key={"m" + t} x1={x(t)} x2={x(t)} y1={f.y1} y2={f.y1 - 4.5} stroke="#000" strokeWidth={5} />
      ))}
      {p.ticks.map((t) => (
        <text
          key={t}
          x={x(t)}
          y={p.tickY}
          textAnchor="middle"
          fontFamily={SERIF}
          fontWeight="bold"
          fontSize={p.tickSize}
        >
          {t}
        </text>
      ))}
      {p.insets.map((s, i) => (
        <Inset key={i} s={s} id={`clip-${idx}-${i}`} />
      ))}
      <rect
        x={f.x0}
        y={f.y0}
        width={f.x1 - f.x0}
        height={f.y1 - f.y0}
        fill="none"
        stroke="#000"
        strokeWidth={5}
      />
      <text
        x={p.title.x}
        y={p.title.y}
        fontFamily={SERIF}
        fontWeight="bold"
        fontSize={p.title.size}
        textLength={p.title.len}
        lengthAdjust="spacingAndGlyphs"
      >
        {p.title.t}
      </text>
      <text
        x={p.xLabel.cx}
        y={p.xLabel.y}
        textAnchor="middle"
        fontFamily={SERIF}
        fontWeight="bold"
        fontSize={p.xLabel.size}
        textLength={p.xLabel.len}
        lengthAdjust="spacingAndGlyphs"
      >
        Wavelength (nm)
      </text>
      <text
        transform={`translate(${p.yLabel.x},${p.yLabel.cy}) rotate(-90)`}
        textAnchor="middle"
        fontFamily={SERIF}
        fontWeight="bold"
        fontSize={p.yLabel.size}
        textLength={p.yLabel.len}
        lengthAdjust="spacingAndGlyphs"
      >
        PL Intensity (a.u)
      </text>
    </g>
  );
}

export default function App() {
  return (
    <div style={{ position: "absolute", left: 0, top: 0, width: 2030, height: 1172, background: "#fff" }}>
      <svg width={2030} height={1172} viewBox="0 0 2030 1172" style={{ display: "block" }}>
        <rect width={2030} height={1172} fill="#fff" />
        {panels.map((p, i) => (
          <Panel key={i} p={p} idx={i} />
        ))}
      </svg>
    </div>
  );
}
